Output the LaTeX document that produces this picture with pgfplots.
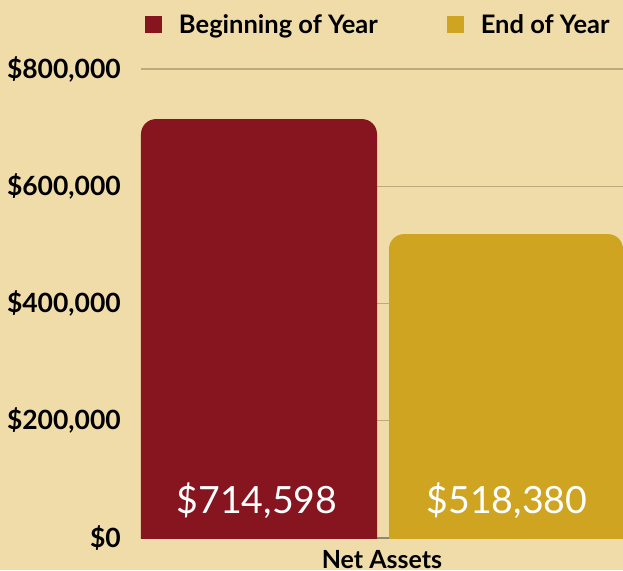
\documentclass[border=0pt]{standalone}
\usepackage{pgfplots}
\pgfplotsset{compat=1.18}
\usepackage{fontspec}
\setmainfont{Lato}
\definecolor{bgc}{HTML}{F0DCA8}
\definecolor{barred}{HTML}{86151F}
\definecolor{bargold}{HTML}{CEA420}
\definecolor{gridc}{HTML}{BFA87E}
\definecolor{basec}{HTML}{8F8775}

\begin{document}
\begin{tikzpicture}
\fill[bgc] (-141pt,-32pt) rectangle (482pt,538pt);
\begin{axis}[
    at={(0pt,0pt)}, anchor=south west,
    scale only axis, width=482pt, height=469pt,
    xmin=0, xmax=482, ymin=0, ymax=800000,
    axis x line*=bottom, axis y line*=left,
    x axis line style={draw=basec, line width=1.2pt, -},
    y axis line style={draw=none},
    xtick=\empty,
    ytick={0,200000,400000,600000,800000},
    yticklabels={{\$0},{\$200,000},{\$400,000},{\$600,000},{\$800,000}},
    scaled y ticks=false,
    major tick length=0pt,
    ymajorgrids, grid style={draw=gridc, line width=1.2pt},
    yticklabel style={font=\bfseries\fontsize{26.5}{26.5}\selectfont, text=black, inner sep=0pt, xshift=-20pt},
    xlabel={Net Assets},
    xlabel style={at={(axis description cs:0.5,0)}, anchor=base, yshift=-30pt,
        font=\bfseries\fontsize{25}{25}\selectfont, inner sep=0pt},
    legend image code/.code={\fill[#1, sharp corners] (0pt,-8.5pt) rectangle (17pt,8.5pt);},
    legend columns=2,
    legend style={draw=none, fill=none, inner sep=0pt, outer sep=0pt,
        at={(rel axis cs:0,1)}, anchor=west, xshift=4pt, yshift=44.5pt,
        font=\bfseries\fontsize{25.5}{25.5}\selectfont,
        nodes={inner sep=0pt},
        /tikz/every odd column/.append style={column sep=17pt},
        /tikz/every even column/.append style={column sep=69pt}},
]
% bars: Beginning of Year, End of Year (bottom corners fall below 0 and are clipped)
\addplot[fill=barred, draw=none, rounded corners=15pt]
    coordinates {(0,-60000) (0,714598) (236,714598) (236,-60000)} -- cycle;
\addplot[fill=bargold, draw=none, rounded corners=15pt]
    coordinates {(248,-60000) (248,518380) (482,518380) (482,-60000)} -- cycle;
\legend{Beginning of Year, End of Year}

\node[text=white, anchor=base, font=\fontsize{37.5}{37.5}\selectfont] at (axis cs:116,41000) {\$714,598};
\node[text=white, anchor=base, font=\fontsize{37.5}{37.5}\selectfont] at (axis cs:366,41000) {\$518,380};
\end{axis}
\pgfresetboundingbox
\useasboundingbox (-141pt,-32pt) rectangle (482pt,538pt);
\end{tikzpicture}
\end{document}
